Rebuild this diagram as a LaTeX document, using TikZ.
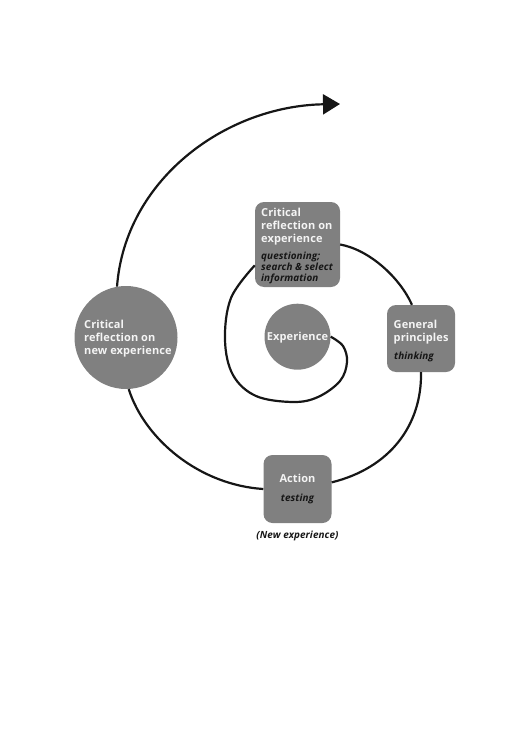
\documentclass[tikz,border=0pt]{standalone}
\usepackage{fontspec}
\setmainfont{Open Sans}
\newfontfamily\titlefam[LetterSpace=1]{Open Sans}
\usetikzlibrary{arrows.meta}
\definecolor{boxgray}{RGB}{128,128,128}
\definecolor{paleink}{RGB}{244,244,244}
\definecolor{darkink}{RGB}{22,22,22}
\tikzset{
  roundbox/.style={draw=none, fill=boxgray, rounded corners=9pt, inner sep=0pt},
  disc/.style={circle, draw=none, fill=boxgray, inner sep=0pt},
  titletext/.style={text=paleink, font=\titlefam\bfseries\fontsize{11}{13}\selectfont, inner sep=0pt, align=left},
  subtext/.style={text=darkink, font=\titlefam\bfseries\itshape\fontsize{9.9}{10.8}\selectfont, inner sep=0pt, align=left},
  link/.style={draw=darkink, line width=2.2pt},
}
\begin{document}
\begin{tikzpicture}[x=1pt,y=-1pt]
\useasboundingbox (0,0) rectangle (532,754);
% shapes
\node[roundbox, minimum width=85pt, minimum height=85pt] (cre) at (297.5,244.5) {};
\node[roundbox, minimum width=68pt, minimum height=67pt] (gp) at (421,338.5) {};
\node[roundbox, minimum width=68pt, minimum height=68pt] (act) at (297.5,489) {};
\node[disc, minimum size=66pt] (exp) at (297.5,336.7) {};
\node[disc, minimum size=103pt] (crne) at (126,337.5) {};
% texts
\node[titletext, anchor=north west] (cre-t) at (261,207.5) {Critical\\reflection on\\experience};
\node[subtext, anchor=north west] (cre-s) at (261,252) {questioning;\\search \& select\\information};
\node[titletext, anchor=north west] (gp-t) at (393.5,319.8) {General\\principles};
\node[subtext, anchor=base west] (gp-s) at (394,359.5) {thinking};
\node[titletext, anchor=base] (act-t) at (297.5,482.3) {Action};
\node[subtext, anchor=base] (act-s) at (297.5,501) {testing};
\node[subtext, anchor=base] (newexp) at (297.5,538.5) {(New experience)};
\node[titletext, anchor=base] (exp-t) at (297.5,340.7) {Experience};
\node[titletext, anchor=north west] (crne-t) at (84,319.8) {Critical\\reflection on\\new experience};
% connectors
\coordinate (tip) at (340,104);
\draw[link] plot[smooth, tension=0.6] coordinates {(exp.east) (343,346) (347,362) (340,381) (318,397) (293,402) (256,396) (233,375) (225,340) (231,298) (cre.206)};
\draw[link] (cre.east) .. controls (370,250) and (400,278) .. (gp.105);
\draw[link] (gp.south) .. controls (422,425) and (390,468) .. (act.11);
\draw[link] (act.west) .. controls (200,485) and (145,440) .. (crne.-87);
\draw[link, -{Triangle[length=17pt,width=20pt]}] (crne.100) .. controls (125,180) and (225,106) .. (tip);
\end{tikzpicture}
\end{document}
